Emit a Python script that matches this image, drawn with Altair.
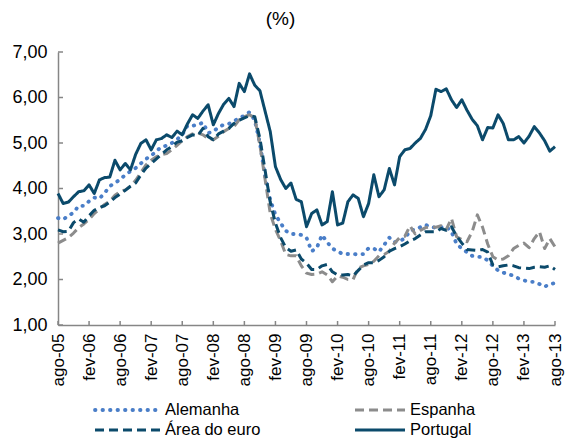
import altair as alt
import pandas as pd

tick_labels = ["ago-05", "fev-06", "ago-06", "fev-07", "ago-07", "fev-08", "ago-08",
               "fev-09", "ago-09", "fev-10", "ago-10", "fev-11", "ago-11", "fev-12",
               "ago-12", "fev-13", "ago-13"]
y_ticks = [1, 2, 3, 4, 5, 6, 7]

alemanha = [3.35, 3.32, 3.40, 3.47, 3.62, 3.62, 3.72, 3.80, 3.78, 3.90, 4.05, 4.12,
            4.20, 4.30, 4.38, 4.45, 4.55, 4.65, 4.72, 4.82, 4.92, 4.94, 5.00, 5.08,
            5.18, 5.38, 5.38, 5.40, 5.45, 5.22, 5.25, 5.35, 5.40, 5.42, 5.48, 5.55,
            5.60, 5.68, 5.50, 5.00, 4.26, 3.75, 3.42, 3.24, 3.07, 3.00, 3.00, 2.98,
            2.92, 2.62, 2.70, 2.98, 2.82, 2.68, 2.62, 2.56, 2.56, 2.56, 2.55, 2.56,
            2.69, 2.68, 2.61, 2.76, 2.92, 2.82, 2.85, 2.90, 3.07, 3.10, 3.15, 3.20,
            3.15, 3.14, 3.15, 3.16, 3.05, 2.78, 2.68, 2.60, 2.52, 2.50, 2.49, 2.42,
            2.30, 2.20, 2.15, 2.12, 2.08, 2.02, 1.98, 1.95, 1.95, 1.90, 1.84, 1.90,
            1.92]

espanha = [2.80, 2.86, 2.92, 3.02, 3.14, 3.22, 3.32, 3.45, 3.55, 3.65, 3.72, 3.85,
           3.93, 3.97, 4.05, 4.18, 4.35, 4.52, 4.62, 4.70, 4.74, 4.77, 4.85, 4.95,
           5.05, 5.14, 5.20, 5.22, 5.18, 5.10, 5.07, 5.15, 5.25, 5.32, 5.36, 5.51,
           5.58, 5.62, 5.55, 4.95, 4.20, 3.45, 3.10, 2.85, 2.55, 2.52, 2.52, 2.30,
           2.14, 2.11, 2.12, 2.17, 2.10, 1.95, 2.08, 2.05, 2.00, 2.00, 2.25, 2.30,
           2.33, 2.40, 2.52, 2.55, 2.62, 2.80, 2.92, 2.95, 3.18, 3.00, 3.08, 3.14,
           3.16, 3.15, 3.18, 3.10, 3.34, 2.94, 2.88, 2.83, 3.05, 3.42, 3.15, 2.78,
           2.50, 2.43, 2.45, 2.52, 2.68, 2.75, 2.80, 2.70, 2.90, 3.05, 2.68, 2.90,
           2.72]

area_euro = [3.09, 3.05, 3.06, 3.25, 3.33, 3.26, 3.40, 3.52, 3.58, 3.62, 3.70, 3.80,
             3.88, 3.96, 4.05, 4.12, 4.30, 4.45, 4.55, 4.65, 4.75, 4.85, 4.92, 5.02,
             5.05, 5.12, 5.18, 5.16, 5.32, 5.14, 5.07, 5.20, 5.26, 5.32, 5.43, 5.50,
             5.55, 5.60, 5.58, 5.10, 4.40, 3.70, 3.24, 2.92, 2.70, 2.62, 2.65, 2.45,
             2.36, 2.22, 2.22, 2.30, 2.33, 2.17, 2.10, 2.10, 2.11, 2.08, 2.20, 2.32,
             2.37, 2.37, 2.42, 2.50, 2.62, 2.68, 2.72, 2.78, 2.85, 2.90, 2.98, 3.05,
             3.05, 3.05, 3.12, 3.08, 3.16, 2.95, 2.80, 2.66, 2.65, 2.64, 2.66, 2.60,
             2.32, 2.28, 2.30, 2.32, 2.30, 2.26, 2.25, 2.24, 2.27, 2.28, 2.27, 2.30,
             2.22]

portugal = [3.89, 3.67, 3.70, 3.82, 3.93, 3.95, 4.08, 3.89, 4.19, 4.24, 4.25, 4.62,
            4.41, 4.55, 4.41, 4.75, 4.99, 5.07, 4.85, 5.07, 5.10, 5.18, 5.12, 5.26,
            5.18, 5.42, 5.62, 5.54, 5.70, 5.84, 5.40, 5.65, 5.85, 5.98, 5.80, 6.31,
            6.13, 6.52, 6.27, 6.15, 5.70, 5.25, 4.48, 4.20, 4.00, 4.12, 3.76, 3.71,
            3.16, 3.45, 3.53, 3.20, 3.27, 3.93, 3.20, 3.24, 3.71, 3.86, 3.78, 3.38,
            3.67, 4.30, 3.82, 3.97, 4.44, 4.08, 4.70, 4.85, 4.88, 5.00, 5.10, 5.30,
            5.60, 6.18, 6.13, 6.19, 5.95, 5.78, 5.95, 5.72, 5.52, 5.38, 5.07, 5.34,
            5.33, 5.62, 5.43, 5.07, 5.07, 5.14, 5.00, 5.15, 5.36, 5.22, 5.05, 4.82,
            4.92]

series_names = ["Alemanha", "Espanha", "Área do euro", "Portugal"]
series_values = [alemanha, espanha, area_euro, portugal]

for s in series_values:
    assert len(s) == 97, len(s)

# styles (not data)
colors = ["#4a7ec8", "#8c8c8c", "#0b4a6b", "#0b4a6b"]
dashes = [[0.5, 7], [9, 5], [9, 5], [1, 0]]
caps = ["round", "butt", "butt", "butt"]
widths = [3.8, 3, 3, 3]
# legend layout (pixels, relative to plot area)
leg_x1 = [37, 297, 37, 297]
leg_x2 = [102, 347, 102, 347]
leg_y = [358, 358, 378, 378]
leg_tx = [107, 352, 107, 352]

rows = []
for name, vals in zip(series_names, series_values):
    for i, v in enumerate(vals):
        rows.append({"m": i, "serie": name, "v": v})
df = pd.DataFrame(rows)

W, H = 497, 273
FONT = "Liberation Sans"
AXIS_COLOR = "#868686"
x_ticks = list(range(0, 97, 6))
labels_js = "[" + ",".join("'" + t + "'" for t in tick_labels) + "]"

x_scale = alt.Scale(domain=[0, 96], nice=False, zero=False)
y_scale = alt.Scale(domain=[1, 7], nice=False, zero=False)

x_axis = alt.Axis(values=x_ticks, labelExpr=labels_js + "[round(datum.value/6)]",
                  labelAngle=270, ticks=False, grid=False, title=None,
                  domainColor=AXIS_COLOR, domainWidth=1.5,
                  labelFontSize=17, labelFont=FONT, labelColor="#000",
                  labelPadding=8, labelOverlap=False, labelFlush=False)
y_axis = alt.Axis(values=y_ticks,
                  labelExpr="replace(format(datum.value, '.2f'), '.', ',')",
                  ticks=False, grid=False, title=None,
                  domainColor=AXIS_COLOR, domainWidth=1.5,
                  labelFontSize=18, labelFont=FONT, labelColor="#000",
                  labelPadding=11, labelOverlap=False, labelFlush=False)

X = alt.X("m:Q", scale=x_scale, axis=x_axis)
Y = alt.Y("v:Q", scale=y_scale, axis=y_axis)

layers = []

ytick_df = pd.DataFrame({"v": y_ticks})
layers.append(alt.Chart(ytick_df).mark_rule(color=AXIS_COLOR, strokeWidth=1.5).encode(
    y=Y, x=alt.value(0), x2=alt.value(5)))

xtick_df = pd.DataFrame({"m": x_ticks})
layers.append(alt.Chart(xtick_df).mark_rule(color=AXIS_COLOR, strokeWidth=1.5).encode(
    x=X, y=alt.value(H), y2=alt.value(H - 4)))

for i, name in enumerate(series_names):
    layers.append(
        alt.Chart(df).transform_filter(alt.datum.serie == name).mark_line(
            color=colors[i], strokeDash=dashes[i], strokeCap=caps[i],
            strokeWidth=widths[i], strokeJoin="round").encode(x=X, y=Y)
    )

for i, name in enumerate(series_names):
    ldf = pd.DataFrame({"serie": [name]})
    layers.append(alt.Chart(ldf).mark_rule(
        color=colors[i], strokeDash=dashes[i], strokeCap=caps[i],
        strokeWidth=widths[i]).encode(
        x=alt.value(leg_x1[i]), x2=alt.value(leg_x2[i]), y=alt.value(leg_y[i])))
    layers.append(alt.Chart(ldf).mark_text(
        align="left", baseline="middle", font=FONT, fontSize=16.5, color="#000").encode(
        text="serie:N", x=alt.value(leg_tx[i]), y=alt.value(leg_y[i])))

chart = alt.layer(*layers).properties(
    width=W, height=H,
    autosize=alt.AutoSizeParams(type="none"),
    padding={"left": 50, "top": 44, "right": 10, "bottom": 114},
    title=alt.TitleParams("(%)", fontSize=19, fontWeight="normal", font=FONT,
                          color="#000", anchor="middle", dx=-26, offset=14,
                          frame="group"),
).configure_view(stroke=None)

chart.save("out.html", embed_options={"renderer": "svg", "actions": False})
